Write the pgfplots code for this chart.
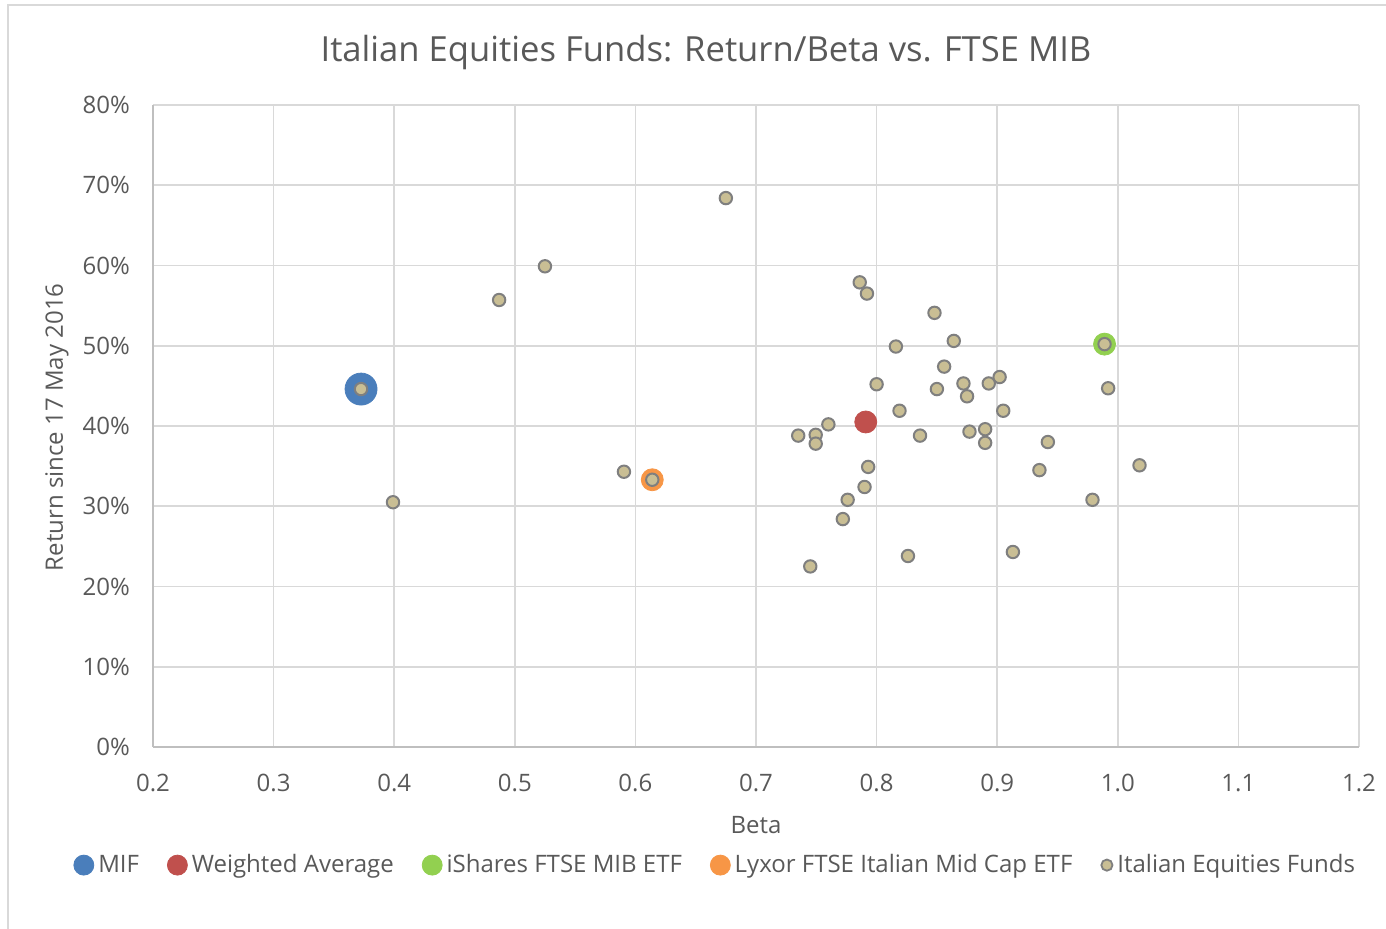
\documentclass[border=0pt]{standalone}
\usepackage{pgfplots}
\pgfplotsset{compat=1.18}
\usepackage{fontspec}
\setmainfont{Open Sans}
\definecolor{gridc}{HTML}{D9D9D9}
\definecolor{axc}{HTML}{BFBFBF}
\definecolor{txt}{HTML}{595959}
\definecolor{mifc}{HTML}{4A7EBB}
\definecolor{wac}{HTML}{C0504D}
\definecolor{ishc}{HTML}{92D050}
\definecolor{lyxc}{HTML}{F79646}
\definecolor{fundc}{HTML}{C9BE94}
\definecolor{funde}{HTML}{7F7F7F}
\begin{document}
\begin{tikzpicture}
\useasboundingbox (0,0) rectangle (693pt,464.5pt);
\draw[gridc,line width=0.8pt] (4pt,0pt) -- (4pt,462pt) -- (700pt,462pt);
\node[text=txt,font=\fontsize{17.3}{20}\selectfont] at (353pt,438pt) {Italian Equities Funds: Return/Beta vs. FTSE MIB};
\begin{axis}[
  at={(76.5pt,91pt)}, anchor=south west,
  scale only axis, width=603pt, height=321pt,
  xmin=0.2, xmax=1.2, ymin=0, ymax=80,
  xtick={0.2,0.3,...,1.21}, ytick={0,10,...,80},
  grid=major, major grid style={gridc,line width=0.8pt},
  axis line style={axc,line width=0.8pt},
  axis x line*=bottom, axis y line*=left,
  tick style={draw=none},
  /pgf/number format/assume math mode=true,
  xticklabel={\pgfmathprintnumber[fixed,fixed zerofill,precision=1]{\tick}},
  yticklabel={\pgfmathprintnumber[fixed,precision=0]{\tick}\%},
  ticklabel style={text=txt,font=\fontsize{12}{14}\selectfont},
  xticklabel style={yshift=-10pt},
  yticklabel style={xshift=-8pt},
  xlabel={Beta}, ylabel={Return since 17 May 2016},
  label style={text=txt,font=\fontsize{12}{14}\selectfont},
  xlabel style={at={(axis description cs:0.5,-0.1215)},anchor=center},
  ylabel style={at={(axis description cs:-0.0796,0.498)},anchor=center,rotate=0},
  legend style={at={(axis description cs:0.467,-0.184)},anchor=center,draw=none,
    legend columns=5, font=\fontsize{12}{14}\selectfont, text=txt,
    /tikz/every even column/.append style={column sep=12pt}},
  legend cell align=left,
  clip=false,
]
\addplot[only marks, mark=*, mark size=8pt, mark options={fill=mifc,draw=mifc},
  legend image code/.code={\fill[mifc] (0pt,0pt) circle (5pt);}]
  coordinates {(0.3725,44.6)};
\addlegendentry{MIF}
\addplot[only marks, mark=*, mark size=5.5pt, mark options={fill=wac,draw=wac},
  legend image code/.code={\fill[wac] (0pt,0pt) circle (5pt);}]
  coordinates {(0.791,40.5)};
\addlegendentry{Weighted Average}
\addplot[only marks, mark=*, mark size=5.5pt, mark options={fill=ishc,draw=ishc},
  legend image code/.code={\fill[ishc] (0pt,0pt) circle (5pt);}]
  coordinates {(0.989,50.2)};
\addlegendentry{iShares FTSE MIB ETF}
\addplot[only marks, mark=*, mark size=5.5pt, mark options={fill=lyxc,draw=lyxc},
  legend image code/.code={\fill[lyxc] (0pt,0pt) circle (5pt);}]
  coordinates {(0.614,33.3)};
\addlegendentry{Lyxor FTSE Italian Mid Cap ETF}
\addplot[only marks, mark=*, mark size=3.1pt, mark options={fill=fundc,draw=funde,line width=1pt},
  legend image code/.code={\filldraw[fill=fundc,draw=funde,line width=0.9pt] (0pt,0pt) circle (2.8pt);}]
  coordinates {
(0.3725,44.6) (0.399,30.5) (0.487,55.7) (0.525,59.9) (0.5905,34.3) (0.614,33.3)
(0.675,68.4) (0.786,57.9) (0.792,56.5) (0.848,54.1) (0.864,50.6) (0.816,49.9)
(0.989,50.2) (0.856,47.4) (0.800,45.2) (0.850,44.6) (0.872,45.3) (0.875,43.7)
(0.893,45.3) (0.902,46.1) (0.992,44.7) (0.819,41.9) (0.905,41.9) (0.760,40.2)
(0.735,38.8) (0.7495,38.9) (0.7495,37.8) (0.836,38.8) (0.877,39.3) (0.890,39.6)
(0.890,37.9) (0.942,38.0) (0.793,34.9) (0.935,34.5) (1.018,35.1) (0.790,32.4)
(0.776,30.8) (0.979,30.8) (0.772,28.4) (0.826,23.8) (0.913,24.3) (0.745,22.5)
};
\addlegendentry{Italian Equities Funds}
\end{axis}
\end{tikzpicture}
\end{document}
